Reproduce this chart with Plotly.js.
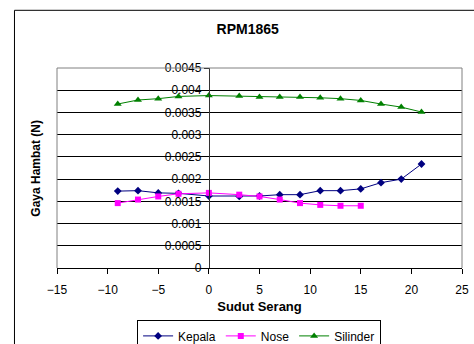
<!DOCTYPE html>
<html>
<head>
<meta charset="utf-8">
<script src="https://cdn.plot.ly/plotly-3.0.1.min.js"></script>
<style>
  html, body { margin: 0; padding: 0; background: #fff; }
  #chart { width: 474px; height: 344px; }
</style>
</head>
<body>
<div id="chart"></div>
<script>
// Angle of attack (degrees)
const sudut = [-9, -7, -5, -3, 0, 3, 5, 7, 9, 11, 13, 15, 17, 19, 21];
const sudutNose = [-9, -7, -5, -3, 0, 3, 5, 7, 9, 11, 13, 15];

// Drag force (N) for each body part
const kepala = [0.00173, 0.00174, 0.00169, 0.00168, 0.00162, 0.00161, 0.00162, 0.00165, 0.00165, 0.00174, 0.00174, 0.00178, 0.00192, 0.00200, 0.00234];
const nose = [0.00146, 0.00154, 0.00161, 0.00167, 0.00169, 0.00165, 0.00161, 0.00154, 0.00146, 0.00142, 0.00140, 0.00140];
const silinder = [0.00369, 0.00378, 0.00381, 0.00386, 0.00388, 0.00387, 0.00385, 0.00385, 0.00385, 0.00383, 0.00381, 0.00377, 0.00369, 0.00362, 0.00351];

// Axis ticks
const yTickVals = [0, 0.0005, 0.001, 0.0015, 0.002, 0.0025, 0.003, 0.0035, 0.004, 0.0045];
const yTickText = ['0', '0.0005', '0.001', '0.0015', '0.002', '0.0025', '0.003', '0.0035', '0.004', '0.0045'];

const FONT = 'Liberation Sans, Arial, sans-serif';

const traces = [
  {
    x: sudut, y: kepala, name: 'Kepala', type: 'scatter', mode: 'lines+markers',
    line: { color: '#000080', width: 1 },
    marker: { symbol: 'diamond', size: 6, color: '#000080' }
  },
  {
    x: sudutNose, y: nose, name: 'Nose', type: 'scatter', mode: 'lines+markers',
    line: { color: '#FF00FF', width: 1 },
    marker: { symbol: 'square', size: 6, color: '#FF00FF' }
  },
  {
    x: sudut, y: silinder, name: 'Silinder', type: 'scatter', mode: 'lines+markers',
    line: { color: '#008000', width: 1 },
    marker: { symbol: 'triangle-up', size: 7, color: '#008000' }
  }
];

const layout = {
  width: 474, height: 344,
  margin: { l: 57, r: 12, t: 68, b: 76, autoexpand: false },
  paper_bgcolor: '#fff', plot_bgcolor: '#fff',
  font: { family: FONT, size: 12, color: '#000' },
  showlegend: true,
  title: {
    text: 'RPM1865',
    font: { family: FONT, size: 14, weight: 'bold', color: '#000' },
    xref: 'paper', x: 0.471, xanchor: 'center',
    yref: 'container', y: 0.9157, yanchor: 'middle'
  },
  xaxis: {
    range: [-15, 25], tick0: -15, dtick: 5,
    showgrid: false, zeroline: false,
    showline: true, linecolor: '#000', linewidth: 1,
    ticks: 'outside', ticklen: 5, tickcolor: '#000',
    ticklabelstandoff: 6,
    tickfont: { family: FONT, size: 12 },
    automargin: false,
    title: { text: 'Sudut Serang', standoff: 5, font: { family: FONT, size: 13, weight: 'bold' } }
  },
  yaxis: {
    range: [0, 0.0045],
    tickmode: 'array', tickvals: yTickVals, ticktext: yTickText,
    anchor: 'free', position: 0.375,
    showgrid: true, gridcolor: '#000', gridwidth: 1,
    zeroline: false,
    showline: true, linecolor: '#333', linewidth: 1,
    ticks: 'outside', ticklen: 5, tickcolor: '#000',
    tickfont: { family: FONT, size: 12 },
    automargin: false
  },
  legend: {
    orientation: 'h', xref: 'paper', yref: 'paper',
    x: 0.499, xanchor: 'center', y: -0.262, yanchor: 'top',
    bordercolor: '#000', borderwidth: 1,
    font: { family: FONT, size: 12 },
    itemwidth: 30,
    tracegroupgap: 0,
    itemclick: false
  },
  annotations: [
    {
      text: 'Gaya Hambat (N)', textangle: -90, showarrow: false,
      xref: 'paper', yref: 'paper', x: -0.0526, y: 0.5,
      xanchor: 'center', yanchor: 'middle',
      font: { family: FONT, size: 12, weight: 'bold' }
    }
  ],
  shapes: [
    // plot area frame (left, top, right)
    {
      type: 'path', xref: 'paper', yref: 'paper', layer: 'above',
      path: 'M0,0 L0,1 L1,1 L1,0',
      line: { color: '#808080', width: 1 }
    },
    // chart area frame
    {
      type: 'rect', xref: 'paper', yref: 'paper', layer: 'below',
      x0: -0.105, x1: 1.2, y0: -0.6, y1: 1.2885,
      line: { color: '#000', width: 1 }
    }
  ]
};

Plotly.newPlot('chart', traces, layout, { staticPlot: true, displayModeBar: false });
</script>
</body>
</html>
